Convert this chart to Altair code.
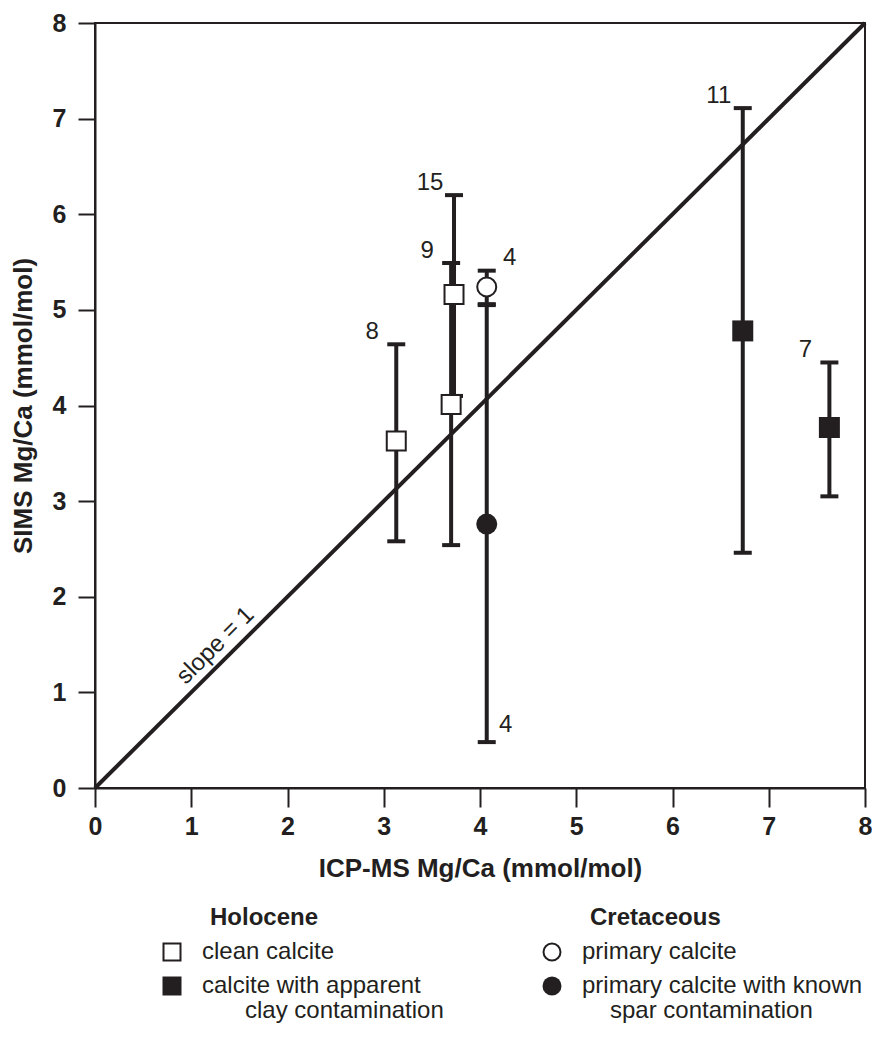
import altair as alt
import pandas as pd

# ---------------- data ----------------
sample_n = ["8", "9", "15", "4", "4", "11", "7"]
icp_mgca = [3.13, 3.70, 3.73, 4.07, 4.07, 6.73, 7.63]
sims_mgca = [3.63, 4.01, 5.16, 5.24, 2.76, 4.78, 3.77]
sims_low = [2.58, 2.54, 4.10, 5.06, 0.48, 2.46, 3.05]
sims_high = [4.64, 5.49, 6.20, 5.41, 5.05, 7.11, 4.45]
sample_cat = ["clean", "clean", "clean", "primary", "spar", "clay", "clay"]

category_keys = ["clean", "clay", "primary", "spar"]
category_age = ["Holocene", "Holocene", "Cretaceous", "Cretaceous"]
category_text = ["clean calcite", "calcite with apparent", "primary calcite",
                 "primary calcite with known"]
category_text2 = ["", "clay contamination", "", "spar contamination"]
ages = ["Holocene", "Cretaceous"]

slope_x = [0, 8]
slope_y = [0, 8]
slope_label = "slope = 1"
slope_label_at = 1.37

axis_ticks = [0, 1, 2, 3, 4, 5, 6, 7, 8]

# ---------------- styling ----------------
INK = "#231f20"
FONT = "Liberation Sans"

df = pd.DataFrame(dict(n=sample_n, icp=icp_mgca, sims=sims_mgca,
                       lo=sims_low, hi=sims_high, cat=sample_cat))

xs = alt.Scale(domain=[0, 8], nice=False, zero=False)
ys = alt.Scale(domain=[0, 8], nice=False, zero=False)

XT = "ICP-MS Mg/Ca (mmol/mol)"
YT = "SIMS Mg/Ca (mmol/mol)"
x_axis = alt.Axis(values=axis_ticks, format="d", grid=False, title=XT,
                  tickSize=19, labelPadding=7, titlePadding=16)
y_axis = alt.Axis(values=axis_ticks, format="d", grid=False, title=YT,
                  tickSize=17, labelPadding=12, titlePadding=16)

X = alt.X("icp:Q", scale=xs, axis=x_axis, title=XT)


def Yf(field):
    return alt.Y(field + ":Q", scale=ys, axis=y_axis, title=YT)


shape_scale = alt.Scale(domain=category_keys,
                        range=["square", "square", "circle", "circle"])

base = alt.Chart(df)

diag = alt.Chart(pd.DataFrame({"icp": slope_x, "sims": slope_y})).mark_line(
    color=INK, strokeWidth=4).encode(x=X, y=Yf("sims"))

bars = base.mark_rule(color=INK, strokeWidth=4).encode(
    x=X, y=Yf("lo"), y2="hi:Q")

cap_hi = base.mark_tick(color=INK, thickness=4, size=18, orient="horizontal",
                        opacity=1).encode(x=X, y=Yf("hi"))
cap_lo = base.mark_tick(color=INK, thickness=4, size=18, orient="horizontal",
                        opacity=1).encode(x=X, y=Yf("lo"))

open_pts = base.transform_filter(
    alt.FieldOneOfPredicate(field="cat", oneOf=["clean", "primary"])
).mark_point(filled=True, fill="white", stroke=INK, strokeWidth=2,
             size=361, opacity=1).encode(
    x=X, y=Yf("sims"), shape=alt.Shape("cat:N", scale=shape_scale, legend=None))

solid_pts = base.transform_filter(
    alt.FieldOneOfPredicate(field="cat", oneOf=["clay", "spar"])
).mark_point(filled=True, fill=INK, strokeWidth=0, size=441,
             opacity=1).encode(
    x=X, y=Yf("sims"), shape=alt.Shape("cat:N", scale=shape_scale, legend=None))

lab_style = dict(font=FONT, fontSize=24, color=INK, align="center",
                 baseline="middle")
lab_left = base.transform_filter(
    alt.FieldOneOfPredicate(field="cat", oneOf=["clean", "clay"])
).mark_text(dx=-24, dy=-12, **lab_style).encode(
    x=X, y=Yf("hi"), text="n:N")
lab_right_top = base.transform_filter(
    alt.FieldEqualPredicate(field="cat", equal="primary")
).mark_text(dx=23, dy=-13, **lab_style).encode(
    x=X, y=Yf("hi"), text="n:N")
lab_right_bot = base.transform_filter(
    alt.FieldEqualPredicate(field="cat", equal="spar")
).mark_text(dx=19, dy=-17, **lab_style).encode(
    x=X, y=Yf("lo"), text="n:N")

slope_txt = alt.Chart(pd.DataFrame({"icp": [slope_label_at],
                                    "sims": [slope_label_at],
                                    "t": [slope_label]})).mark_text(
    angle=315, dy=-16, **lab_style).encode(x=X, y=Yf("sims"), text="t:N")

data_layer = alt.layer(diag, bars, cap_hi, cap_lo, open_pts, solid_pts,
                       lab_left, lab_right_top, lab_right_bot, slope_txt)

# ---------------- custom legend (own point scales) ----------------
leg_rows = []
for a in ages:
    leg_rows.append(dict(col=a, row=0, kind="title", text=a, cat=""))
k = {a: 0 for a in ages}
for key, age, t1, t2 in zip(category_keys, category_age, category_text,
                            category_text2):
    k[age] += 1
    leg_rows.append(dict(col=age, row=k[age], kind="item", text=t1, cat=key))
    if t2:
        leg_rows.append(dict(col=age, row=3, kind="cont", text=t2, cat=key))
leg_df = pd.DataFrame(leg_rows)

LX = alt.X("col:N", scale=alt.Scale(type="point", domain=ages,
                                    range=[77, 457], padding=0), axis=None)
LY = alt.Y("row:O", scale=alt.Scale(type="point", domain=[0, 1, 2, 3],
                                    range=[895, 997], padding=0), axis=None)
leg = alt.Chart(leg_df)

txt = dict(font=FONT, fontSize=24, color=INK, align="left", baseline="middle")
leg_title = leg.transform_filter(alt.datum.kind == "title").mark_text(
    fontWeight="bold", dx=38, **txt).encode(x=LX, y=LY, text="text:N")
leg_item = leg.transform_filter(alt.datum.kind == "item").mark_text(
    dx=30, **txt).encode(x=LX, y=LY, text="text:N")
leg_cont_h = leg.transform_filter(
    (alt.datum.kind == "cont") & (alt.datum.col == "Holocene")).mark_text(
    dx=73, dy=-9, **txt).encode(x=LX, y=LY, text="text:N")
leg_cont_c = leg.transform_filter(
    (alt.datum.kind == "cont") & (alt.datum.col == "Cretaceous")).mark_text(
    dx=58, dy=-9, **txt).encode(x=LX, y=LY, text="text:N")
leg_open = leg.transform_filter(
    alt.FieldOneOfPredicate(field="cat", oneOf=["clean", "primary"])
).transform_filter(alt.datum.kind == "item").mark_point(
    filled=True, fill="white", stroke=INK, strokeWidth=2, size=289,
    opacity=1).encode(x=LX, y=LY,
                      shape=alt.Shape("cat:N", scale=shape_scale, legend=None))
leg_solid = leg.transform_filter(
    alt.FieldOneOfPredicate(field="cat", oneOf=["clay", "spar"])
).transform_filter(alt.datum.kind == "item").mark_point(
    filled=True, fill=INK, strokeWidth=0, size=361, opacity=1).encode(
    x=LX, y=LY, shape=alt.Shape("cat:N", scale=shape_scale, legend=None))

legend_layer = alt.layer(leg_title, leg_item, leg_cont_h, leg_cont_c,
                         leg_open, leg_solid)

chart = alt.layer(data_layer, legend_layer).resolve_scale(
    x="independent", y="independent"
).properties(
    width=770, height=765,
    padding={"top": 3, "left": 2, "right": -1, "bottom": 0},
    background="white",
).configure_view(
    stroke=INK, strokeWidth=2
).configure_axis(
    domainColor=INK, domainWidth=2, tickColor=INK, tickWidth=2,
    labelColor=INK, titleColor=INK, labelFont=FONT, titleFont=FONT,
    labelFontSize=25, labelFontWeight="bold", titleFontSize=26,
    titleFontWeight="bold", labelFlush=False, labelOverlap=False
)

chart.save("out.html", embed_options={"renderer": "svg", "actions": False})
